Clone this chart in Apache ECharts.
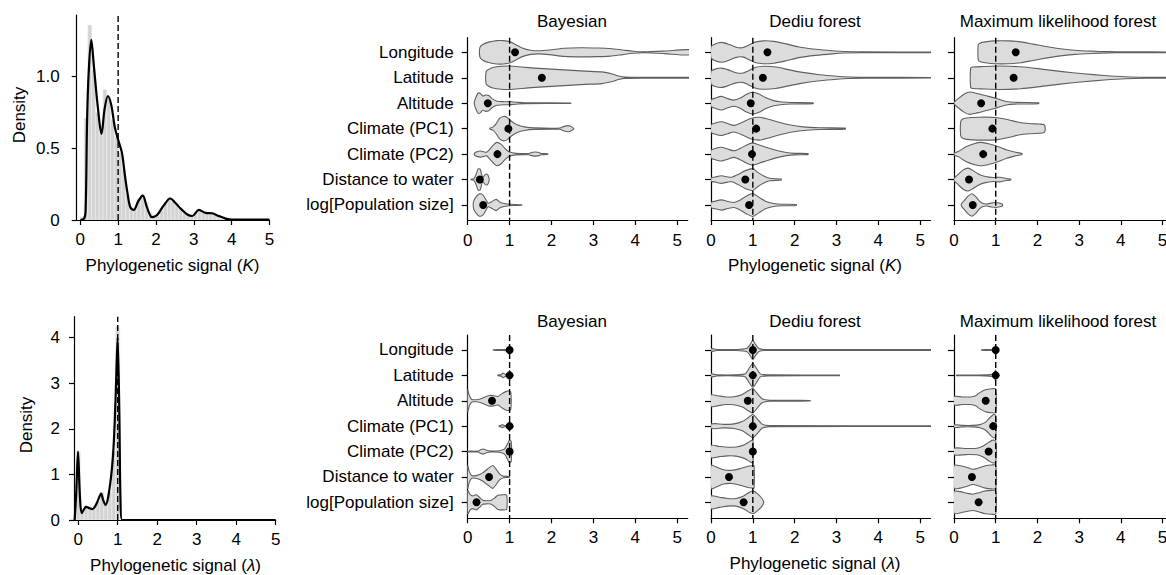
<!DOCTYPE html>
<html><head><meta charset="utf-8">
<script src="https://cdn.jsdelivr.net/npm/echarts@6/dist/echarts.min.js"></script>
<style>html,body{margin:0;padding:0;background:#fff}#c{width:1166px;height:575px}</style>
</head><body><div id="c"></div>
<script>
// ---------------- data ----------------
const categories = ['Longitude','Latitude','Altitude','Climate (PC1)','Climate (PC2)','Distance to water','log[Population size]'];
const methods = ['Bayesian','Dediu forest','Maximum likelihood forest'];
const xTicks = [0,1,2,3,4,5];
const densityKTicks = [0,0.5,1.0];
const densityLTicks = [0,1,2,3,4];
const rowTicks = [0,1,2,3,4,5,6];

// histogram of K, bins of 0.1 starting at 0
const histKBinWidth = 0.1;
const histK = [0.02,0.71,1.36,1.05,0.75,0.62,0.91,0.85,0.7,0.58,
               0.47,0.35,0.18,0.09,0.08,0.15,0.18,0.12,0.05,0.02,
               0.03,0.07,0.12,0.16,0.14,0.11,0.08,0.05,0.035,0.03,
               0.05,0.07,0.06,0.05,0.05,0.04,0.03,0.015,0.008,0.003,
               0.002,0.002,0.002,0.002,0.002,0.002,0.002,0.002,0.002,0.002];
// histogram of lambda, bins of 0.1 centred on 0, 0.1, ... 1.0
const histLBinWidth = 0.1;
const histL = [1.5,0.18,0.3,0.28,0.25,0.4,0.6,0.35,0.6,1.5,4.25];

const curveK = [[0,0],[0.1,0.01],[0.14,0.06],[0.18,0.7],[0.22,1.02],[0.29,1.256],[0.36,1.07],[0.47,0.77],[0.56,0.6],
  [0.64,0.77],[0.73,0.865],[0.82,0.8],[0.91,0.65],[1.01,0.55],[1.1,0.47],[1.17,0.33],[1.24,0.2],[1.32,0.09],
  [1.41,0.07],[1.53,0.13],[1.65,0.17],[1.76,0.09],[1.9,0.02],[2.03,0.035],[2.2,0.1],[2.38,0.15],[2.51,0.12],
  [2.65,0.08],[2.82,0.04],[2.96,0.028],[3.13,0.07],[3.31,0.05],[3.48,0.047],[3.66,0.028],[3.84,0.01],[4.01,0.002],
  [4.5,0.002],[5,0.002]];
const curveL = [[-0.09,0],[-0.05,0.6],[-0.006,1.5],[0.044,0.51],[0.09,0.15],[0.2,0.29],[0.28,0.26],[0.36,0.24],
  [0.47,0.37],[0.58,0.58],[0.63,0.44],[0.69,0.33],[0.76,0.51],[0.85,1.1],[0.9,1.68],[0.95,2.78],[0.997,4.0],
  [1.04,2.4],[1.07,0.44],[1.11,0],[2,0],[3,0],[4,0],[5,0]];

// violins: [x, half-width in row units]
const violinBayesK = [
  [[0.29,0.18],[0.35,0.3],[0.5,0.4],[0.7,0.46],[0.85,0.46],[1.0,0.42],[1.15,0.3],[1.3,0.17],[1.5,0.08],[1.7,0.06],[1.95,0.09],[2.3,0.16],[2.7,0.18],[3.1,0.17],[3.4,0.15],[3.7,0.09],[3.95,0.04],[4.2,0.02],[4.7,0.05],[5.3,0.1]],
  [[0.44,0.25],[0.5,0.33],[0.6,0.4],[0.8,0.45],[1.0,0.46],[1.3,0.42],[1.6,0.38],[2.0,0.34],[2.4,0.3],[2.8,0.26],[3.2,0.23],[3.45,0.15],[3.6,0.07],[3.75,0.025],[4.2,0.015],[5.3,0.015]],
  [[0.16,0.05],[0.2,0.25],[0.25,0.4],[0.3,0.38],[0.36,0.28],[0.43,0.32],[0.5,0.3],[0.58,0.18],[0.68,0.09],[0.85,0.06],[1.0,0.06],[1.15,0.04],[1.35,0.015],[2.46,0.01]],
  [[0.53,0.02],[0.6,0.06],[0.68,0.2],[0.76,0.4],[0.86,0.48],[0.95,0.43],[1.05,0.28],[1.18,0.15],[1.35,0.07],[1.6,0.03],[2.2,0.025],[2.3,0.09],[2.4,0.12],[2.48,0.07],[2.53,0.01]],
  [[0.16,0.03],[0.22,0.09],[0.3,0.12],[0.38,0.09],[0.45,0.07],[0.52,0.18],[0.6,0.33],[0.69,0.46],[0.8,0.38],[0.9,0.2],[1.0,0.08],[1.15,0.03],[1.45,0.025],[1.55,0.07],[1.62,0.08],[1.7,0.06],[1.75,0.025],[1.91,0.015]],
  [[0.08,0.01],[0.15,0.03],[0.2,0.2],[0.25,0.42],[0.3,0.4],[0.34,0.15],[0.37,0.1],[0.42,0.2],[0.47,0.2],[0.51,0.05]],
  [[0.14,0.14],[0.2,0.32],[0.28,0.44],[0.36,0.4],[0.42,0.25],[0.49,0.07],[0.57,0.13],[0.68,0.22],[0.78,0.1],[0.9,0.05],[1.0,0.03],[1.29,0.01]]
];
const violinDediuK = [
  [[0,0.22],[0.1,0.33],[0.25,0.39],[0.4,0.33],[0.6,0.2],[0.75,0.18],[0.9,0.28],[1.05,0.4],[1.25,0.45],[1.5,0.43],[1.8,0.33],[2.1,0.21],[2.5,0.12],[2.9,0.06],[3.2,0.03],[3.6,0.015],[5.3,0.012]],
  [[0,0.25],[0.1,0.34],[0.25,0.38],[0.4,0.32],[0.6,0.2],[0.75,0.18],[0.9,0.28],[1.05,0.4],[1.25,0.45],[1.55,0.42],[1.85,0.32],[2.15,0.22],[2.6,0.12],[3.0,0.06],[3.3,0.03],[3.7,0.015],[5.3,0.012]],
  [[0,0.13],[0.1,0.2],[0.25,0.27],[0.4,0.18],[0.55,0.12],[0.7,0.2],[0.85,0.35],[1.0,0.43],[1.15,0.36],[1.3,0.22],[1.5,0.1],[1.7,0.05],[1.9,0.03],[2.44,0.02]],
  [[0,0.15],[0.1,0.22],[0.25,0.27],[0.4,0.2],[0.55,0.13],[0.75,0.25],[0.95,0.4],[1.15,0.45],[1.35,0.38],[1.6,0.26],[1.9,0.14],[2.2,0.07],[2.6,0.035],[3.21,0.02]],
  [[0,0.15],[0.1,0.22],[0.25,0.27],[0.4,0.2],[0.55,0.13],[0.72,0.24],[0.88,0.38],[1.0,0.43],[1.15,0.36],[1.35,0.25],[1.6,0.13],[1.8,0.06],[2.0,0.03],[2.32,0.02]],
  [[0,0.06],[0.1,0.1],[0.25,0.15],[0.4,0.1],[0.5,0.09],[0.65,0.2],[0.82,0.35],[1.0,0.43],[1.1,0.3],[1.25,0.15],[1.4,0.05],[1.68,0.02]],
  [[0,0.1],[0.1,0.15],[0.25,0.2],[0.4,0.14],[0.55,0.1],[0.7,0.2],[0.85,0.35],[1.0,0.45],[1.15,0.3],[1.3,0.15],[1.5,0.06],[1.7,0.03],[2.04,0.02]]
];
const violinMLK = [
  [[0.58,0.29],[0.62,0.36],[0.75,0.41],[1.0,0.45],[1.3,0.45],[1.6,0.41],[1.9,0.32],[2.2,0.23],[2.5,0.15],[2.9,0.08],[3.3,0.045],[3.7,0.025],[4.1,0.015],[5.4,0.012]],
  [[0.4,0.39],[0.45,0.42],[0.7,0.44],[1.1,0.46],[1.6,0.43],[2.1,0.34],[2.6,0.24],[3.1,0.16],[3.6,0.09],[4.1,0.04],[4.6,0.02],[5.4,0.015]],
  [[0,0.03],[0.1,0.18],[0.25,0.36],[0.38,0.44],[0.55,0.38],[0.75,0.3],[0.95,0.22],[1.1,0.14],[1.25,0.07],[1.45,0.035],[2.03,0.02]],
  [[0.16,0.27],[0.2,0.37],[0.3,0.42],[0.6,0.45],[1.0,0.44],[1.3,0.35],[1.55,0.25],[1.8,0.2],[2.05,0.18],[2.15,0.16],[2.18,0.1]],
  [[0,0.03],[0.1,0.1],[0.3,0.3],[0.5,0.42],[0.65,0.46],[0.85,0.4],[1.05,0.3],[1.25,0.17],[1.45,0.08],[1.63,0.02]],
  [[0,0.04],[0.1,0.2],[0.22,0.38],[0.34,0.45],[0.45,0.36],[0.58,0.22],[0.75,0.12],[0.95,0.08],[1.1,0.09],[1.25,0.04],[1.36,0.02]],
  [[0.18,0.05],[0.25,0.18],[0.33,0.34],[0.43,0.44],[0.52,0.33],[0.6,0.17],[0.68,0.07],[0.78,0.04],[0.9,0.08],[1.0,0.1],[1.1,0.07],[1.16,0.03]]
];
const violinBayesL = [
  [[0.61,0.012],[0.85,0.015],[0.94,0.03],[0.98,0.08],[1.0,0.2]],
  [[0.72,0.012],[0.8,0.03],[0.84,0.09],[0.88,0.05],[0.93,0.03],[0.98,0.08],[1.0,0.2]],
  [[0,0.43],[0.04,0.2],[0.1,0.05],[0.2,0.04],[0.3,0.07],[0.42,0.15],[0.52,0.21],[0.62,0.2],[0.72,0.17],[0.82,0.28],[0.92,0.37],[0.99,0.38],[1.03,0.33]],
  [[0.75,0.012],[0.8,0.03],[0.83,0.06],[0.86,0.03],[0.93,0.03],[0.98,0.08],[1.0,0.2]],
  [[0,0.012],[0.25,0.02],[0.32,0.08],[0.37,0.1],[0.43,0.06],[0.55,0.02],[0.75,0.03],[0.88,0.1],[0.95,0.3],[1.0,0.45],[1.04,0.38]],
  [[0,0.45],[0.04,0.2],[0.1,0.05],[0.22,0.06],[0.35,0.15],[0.48,0.32],[0.6,0.45],[0.68,0.3],[0.76,0.12],[0.85,0.03],[1.0,0.015]],
  [[0,0.46],[0.06,0.3],[0.13,0.25],[0.2,0.3],[0.28,0.2],[0.36,0.08],[0.45,0.06],[0.55,0.07],[0.65,0.18],[0.72,0.28],[0.85,0.3],[0.93,0.28]]
];
const violinDediuL = [
  [[0,0.05],[0.08,0.04],[0.15,0.02],[0.6,0.02],[0.85,0.06],[0.93,0.2],[1.0,0.38],[1.07,0.2],[1.15,0.06],[1.3,0.02],[5.3,0.015]],
  [[0,0.06],[0.08,0.04],[0.15,0.02],[0.6,0.02],[0.82,0.06],[0.92,0.3],[1.0,0.47],[1.08,0.3],[1.18,0.06],[1.35,0.02],[3.07,0.012]],
  [[0,0.23],[0.15,0.2],[0.35,0.15],[0.55,0.16],[0.75,0.25],[0.9,0.4],[1.0,0.48],[1.1,0.3],[1.22,0.08],[1.4,0.02],[2.37,0.012]],
  [[0,0.08],[0.1,0.1],[0.3,0.07],[0.55,0.09],[0.75,0.18],[0.9,0.35],[1.0,0.46],[1.1,0.3],[1.22,0.08],[1.4,0.02],[5.3,0.015]],
  [[0,0.24],[0.2,0.2],[0.4,0.17],[0.6,0.18],[0.8,0.27],[0.93,0.4],[1.0,0.45],[1.01,0.05]],
  [[0,0.46],[0.12,0.4],[0.3,0.28],[0.5,0.26],[0.7,0.33],[0.88,0.42],[1.0,0.44],[1.03,0.44]],
  [[0,0.25],[0.2,0.2],[0.4,0.15],[0.6,0.15],[0.78,0.25],[0.92,0.4],[1.02,0.44],[1.12,0.32],[1.22,0.15],[1.26,0.02]]
];
const violinMLL = [
  [[0.66,0.012],[0.85,0.015],[0.94,0.03],[0.98,0.1],[1.0,0.2]],
  [[0.06,0.012],[0.6,0.015],[0.85,0.03],[0.95,0.07],[1.0,0.2]],
  [[0,0.16],[0.2,0.15],[0.4,0.15],[0.52,0.2],[0.62,0.32],[0.75,0.43],[0.9,0.47],[1.0,0.46]],
  [[0,0.05],[0.2,0.03],[0.45,0.03],[0.62,0.06],[0.75,0.15],[0.86,0.33],[0.95,0.46],[1.0,0.42]],
  [[0,0.13],[0.3,0.12],[0.55,0.13],[0.7,0.22],[0.83,0.36],[0.93,0.45],[1.0,0.42]],
  [[0,0.45],[0.15,0.44],[0.3,0.38],[0.45,0.3],[0.6,0.36],[0.75,0.44],[0.9,0.47],[1.0,0.46]],
  [[0,0.43],[0.15,0.42],[0.3,0.36],[0.45,0.32],[0.6,0.38],[0.75,0.45],[0.9,0.47],[1.0,0.46]]
];
const medianBayesK = [1.13,1.77,0.48,0.97,0.71,0.29,0.37];
const medianDediuK = [1.35,1.24,0.95,1.08,0.98,0.82,0.91];
const medianMLK    = [1.48,1.43,0.65,0.92,0.70,0.36,0.45];
const medianBayesL = [1.0,1.0,0.58,1.0,1.0,0.51,0.21];
const medianDediuL = [1.0,1.0,0.88,1.0,1.0,0.43,0.78];
const medianMLL    = [1.0,1.0,0.76,0.94,0.83,0.43,0.59];

// ---------------- chart ----------------
const FONT = '"Liberation Sans", Arial, Helvetica, sans-serif';
const FS = 17;
const axisLineStyle = {color:'#000', width:1.2};
const violinSets = [violinBayesK, violinDediuK, violinMLK, violinBayesL, violinDediuL, violinMLL];
const medianSets = [medianBayesK, medianDediuK, medianMLK, medianBayesL, medianDediuL, medianMLL];

const grids = [
  {left:76.7, top:15, width:192.8, height:205},
  {left:74, top:316.7, width:201.7, height:203.3},
  {left:467.7, top:37.7, width:220, height:182.3},
  {left:711, top:37.7, width:219.6, height:182.3},
  {left:954, top:37.7, width:219, height:182.3},
  {left:467.7, top:335, width:220, height:183.3},
  {left:711, top:335, width:219.6, height:183.3},
  {left:954, top:335, width:219, height:183.3}
].map(g=>Object.assign({outerBoundsMode:'none', containLabel:false}, g));
const yRangeTop = [-0.574, 6.59], yRangeBot = [-0.59, 6.63];

function xAxisCfg(i, min, max, margin){
  return {type:'value', gridIndex:i, min:min, max:max,
    axisLine:{show:true, onZero:false, lineStyle:axisLineStyle},
    axisTick:{show:true, length:5, lineStyle:axisLineStyle, customValues:xTicks},
    axisLabel:{show:true, color:'#000', fontSize:FS, fontFamily:FONT, margin:margin, customValues:xTicks},
    splitLine:{show:false}};
}
const xAxes = [
  xAxisCfg(0,-0.095,5.0,11),
  xAxisCfg(1,-0.107,5.0,11),
];
for (let k=0;k<6;k++) xAxes.push(xAxisCfg(k+2,0,5.25,k<3?12:11));

const yAxes = [
  {type:'value', gridIndex:0, min:0, max:1.43,
    axisLine:{show:true, onZero:false, lineStyle:axisLineStyle},
    axisTick:{show:true, length:5, lineStyle:axisLineStyle, customValues:densityKTicks},
    axisLabel:{color:'#000', fontSize:FS, fontFamily:FONT, margin:17, customValues:densityKTicks,
      formatter:v=> v===0 ? '0' : v.toFixed(1)},
    splitLine:{show:false}},
  {type:'value', gridIndex:1, min:0, max:4.46,
    axisLine:{show:true, onZero:false, lineStyle:axisLineStyle},
    axisTick:{show:true, length:5, lineStyle:axisLineStyle, customValues:densityLTicks},
    axisLabel:{color:'#000', fontSize:FS, fontFamily:FONT, margin:14, customValues:densityLTicks},
    splitLine:{show:false}}
];
for (let k=0;k<6;k++){
  const yr = k<3 ? yRangeTop : yRangeBot;
  yAxes.push({type:'value', gridIndex:k+2, inverse:true, min:yr[0], max:yr[1],
    axisLine:{show:true, onZero:false, lineStyle:axisLineStyle},
    axisTick:{show:true, length:6, lineStyle:axisLineStyle, customValues:rowTicks},
    axisLabel:{show:(k%3===0), color:'#000', fontSize:FS, fontFamily:FONT, margin:14, customValues:rowTicks,
      formatter:v=>categories[Math.round(v)]},
    splitLine:{show:false}});
}

const series = [];
function histSeries(ai, data){
  return {type:'custom', xAxisIndex:ai, yAxisIndex:ai, z:1, clip:true, silent:true, data:data,
    renderItem:(params, api)=>{
      const p0 = api.coord([api.value(0), 0]);
      const p1 = api.coord([api.value(1), api.value(2)]);
      return {type:'rect', shape:{x:p0[0], y:p1[1], width:p1[0]-p0[0], height:p0[1]-p1[1]},
        style:{fill:'#d3d3d3', stroke:'#ececec', lineWidth:0.7}};
    }};
}
series.push(histSeries(0, histK.map((h,i)=>[i*histKBinWidth, (i+1)*histKBinWidth, h])));
series.push(histSeries(1, histL.map((h,i)=>[i*histLBinWidth - histLBinWidth/2, i*histLBinWidth + histLBinWidth/2, h])));
series.push({type:'line', xAxisIndex:0, yAxisIndex:0, z:2, silent:true, showSymbol:false, data:[[1,0],[1,1.43]],
  lineStyle:{color:'#000', width:1.4, type:[6,3]}});
series.push({type:'line', xAxisIndex:1, yAxisIndex:1, z:2, silent:true, showSymbol:false, data:[[1,0],[1,4.46]],
  lineStyle:{color:'#000', width:1.4, type:[6,3]}});
series.push({type:'line', xAxisIndex:0, yAxisIndex:0, z:3, silent:true, showSymbol:false, smooth:0.35, data:curveK,
  lineStyle:{color:'#000', width:2.2}});
series.push({type:'line', xAxisIndex:1, yAxisIndex:1, z:3, silent:true, showSymbol:false, smooth:0.3, data:curveL,
  lineStyle:{color:'#000', width:2.2}});

violinSets.forEach((shapes, k)=>{
  const ai = k+2;
  const yr = k<3 ? yRangeTop : yRangeBot;
  series.push({type:'custom', xAxisIndex:ai, yAxisIndex:ai, z:2, clip:true, silent:true,
    data:shapes.map((s,i)=>[i]),
    renderItem:(params, api)=>{
      const row = api.value(0);
      const s = shapes[params.dataIndex];
      const up = s.map(p=>api.coord([p[0], row - p[1]]));
      const lo = s.map(p=>api.coord([p[0], row + p[1]])).reverse();
      return {type:'polygon', shape:{points:up.concat(lo), smooth:0.25},
        style:{fill:'#dcdcdc', stroke:'#606060', lineWidth:1.1}};
    }});
  series.push({type:'line', xAxisIndex:ai, yAxisIndex:ai, z:3, silent:true, showSymbol:false,
    data:[[1,yr[0]],[1,yr[1]]], lineStyle:{color:'#000', width:1.4, type:[6,3]}});
  series.push({type:'scatter', xAxisIndex:ai, yAxisIndex:ai, z:4, silent:true, symbolSize:8,
    data:medianSets[k].map((m,i)=>[m,i]), itemStyle:{color:'#000', opacity:1}});
});

function txt(x, y, text, rot){
  return {type:'text', x:x, y:y, rotation:rot||0, silent:true,
    style:{text:text, fontSize:FS, fontFamily:FONT, fill:'#000',
      align:'center', verticalAlign:'middle', textAlign:'center', textVerticalAlign:'middle',
      rich:{i:{fontStyle:'italic', fontSize:FS, fontFamily:FONT, fill:'#000'}}}};
}
const graphic = [
  txt(572,21,methods[0]), txt(815,21,methods[1]), txt(1058,21,methods[2]),
  txt(572,321,methods[0]), txt(815,321,methods[1]), txt(1058,321,methods[2]),
  txt(172.5,265,'Phylogenetic signal ({i|K})'), txt(815,265,'Phylogenetic signal ({i|K})'),
  txt(175.5,565,'Phylogenetic signal ({i|λ})'), txt(815,563,'Phylogenetic signal ({i|λ})'),
  txt(19,115,'Density',Math.PI/2), txt(26.7,425,'Density',Math.PI/2)
];

const chart = echarts.init(document.getElementById('c'), null, {renderer:'svg', width:1166, height:575});
chart.setOption({
  animation:false, backgroundColor:'#fff',
  textStyle:{fontFamily:FONT},
  grid:grids, xAxis:xAxes, yAxis:yAxes, series:series, graphic:graphic
});
</script></body></html>
